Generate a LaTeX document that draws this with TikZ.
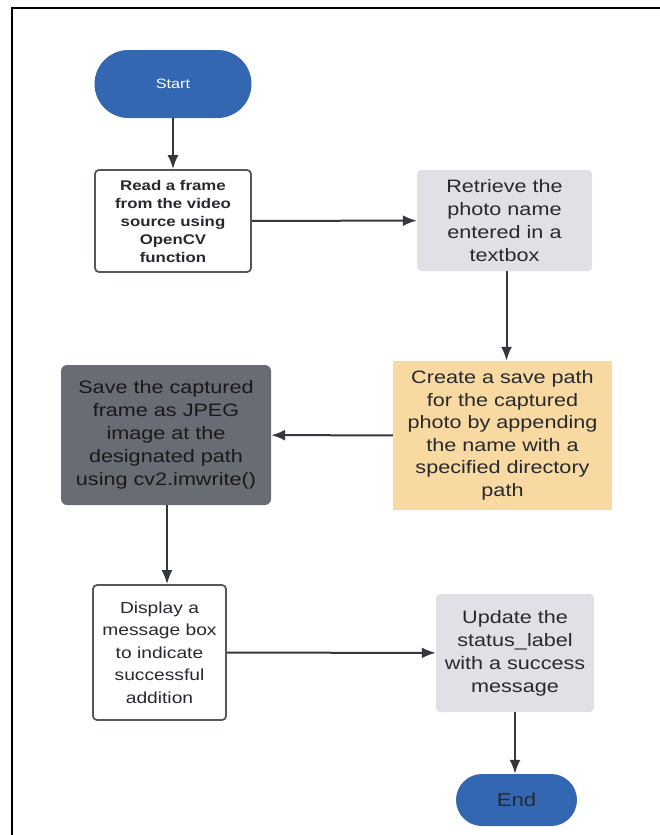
\documentclass[tikz,border=0pt]{standalone}
\usepackage{fontspec}
\setmainfont[FakeStretch=1.2]{Liberation Sans}
\usetikzlibrary{arrows.meta}
\definecolor{termblue}{HTML}{3467B2}
\definecolor{paleGray}{HTML}{DFE1E6}
\definecolor{paleOrange}{HTML}{F9D9A2}
\definecolor{slateGray}{HTML}{686C74}
\definecolor{edgeGray}{HTML}{54585F}
\definecolor{lineDark}{HTML}{33373E}
\definecolor{inkDark}{HTML}{26292E}
\tikzset{
  terminal/.style={rounded corners=#1, fill=termblue, draw=none, inner sep=0pt},
  plainbox/.style={draw=edgeGray, line width=1.8pt, fill=white, rounded corners=4pt, inner sep=0pt, align=center, text=inkDark},
  graybox/.style={fill=paleGray, draw=none, rounded corners=4pt, inner sep=0pt, align=center, text=inkDark},
  orangebox/.style={fill=paleOrange, draw=none, inner sep=0pt, align=center, text=inkDark},
  darkbox/.style={fill=slateGray, draw=none, rounded corners=6pt, inner sep=0pt, align=center, text=black!90},
  flow/.style={draw=lineDark, line width=2pt, -{Latex[length=14pt,width=11pt]}},
  bodytext/.style={font=\fontsize{18}{23}\selectfont},
}
\begin{document}
\begin{tikzpicture}[x=1pt,y=-1pt]
\useasboundingbox (0,0) rectangle (660,835);
% page frame
\draw[line width=2.5pt, black] (12,835) -- (12,8) -- (660,8);

% terminals
\node[terminal=34pt, minimum width=157pt, minimum height=68pt, text=white,
      font=\fontsize{13.5}{15}\selectfont] (start) at (173,84) {Start};
\node[terminal=26pt, minimum width=121pt, minimum height=52pt, text=inkDark,
      font=\fontsize{18.5}{20}\selectfont] (finish) at (516.5,800) {End};

% process boxes
\node[plainbox, minimum width=156pt, minimum height=102pt,
      font=\bfseries\fontsize{14}{18}\selectfont] (read) at (173,221)
  {Read a frame\\from the video\\source using\\OpenCV\\function};
\node[graybox, bodytext, minimum width=175pt, minimum height=101pt] (retrieve) at (504.5,220.5)
  {Retrieve the\\photo name\\entered in a\\textbox};
\node[orangebox, minimum width=219pt, minimum height=149pt,
      font=\fontsize{18}{22.5}\selectfont] (create) at (502.5,435.5)
  {Create a save path\\for the captured\\photo by appending\\the name with a\\specified directory\\path};
\node[darkbox, bodytext, minimum width=210pt, minimum height=140pt] (save) at (166,435)
  {Save the captured\\frame as JPEG\\image at the\\designated path\\using cv2.imwrite()};
\node[plainbox, minimum width=133pt, minimum height=135pt,
      font=\fontsize{16}{22.5}\selectfont] (display) at (159.5,652.5)
  {Display a\\message box\\to indicate\\successful\\addition};
\node[graybox, bodytext, minimum width=158pt, minimum height=118pt] (update) at (515,653)
  {Update the\\status\_label\\with a success\\message};

% connectors
\draw[flow] (start) -- (read);
\draw[flow] (read) -- (retrieve);
\draw[flow] ([xshift=2pt]retrieve.south) -- ([xshift=2pt]retrieve.south |- create.north);
\draw[flow] (create) -- (save);
\draw[flow] ([xshift=1pt]save.south) -- ([xshift=1pt]save.south |- display.north);
\draw[flow] (display) -- (update);
\draw[flow] (update.south) -- (update.south |- finish.north);
\end{tikzpicture}
\end{document}
